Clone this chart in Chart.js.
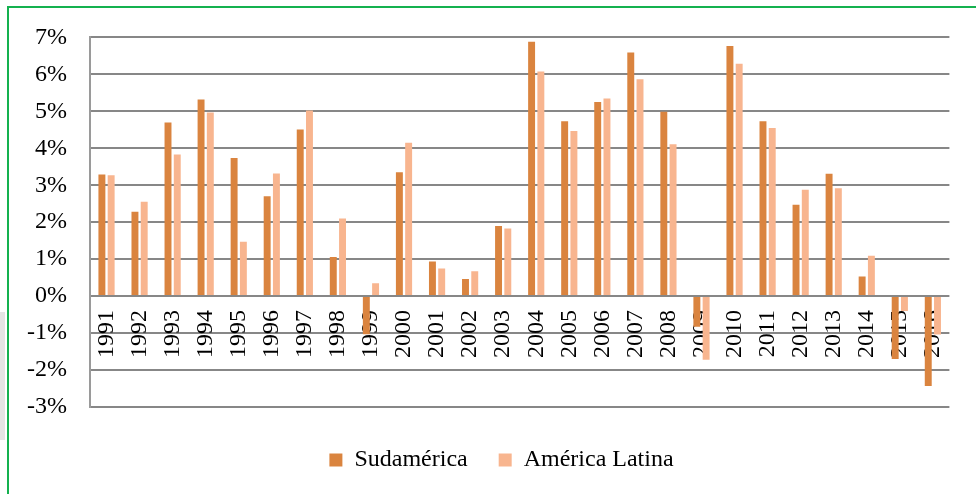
<!DOCTYPE html>
<html>
<head>
<meta charset="utf-8">
<script src="https://cdn.jsdelivr.net/npm/chart.js@4.4.1/dist/chart.umd.min.js"></script>
<style>
    body { margin: 0; background: #fff; }
    #wrap { position: relative; width: 976px; height: 494px; overflow: hidden; }
    #frame { position: absolute; left: 7px; top: 6px; right: -10px; bottom: -10px;
        border-left: 2px solid #14b14f; border-top: 2px solid #14b14f; pointer-events: none; }
    #strip { position: absolute; left: 0; top: 312px; width: 5px; height: 128px; background: #e4e4e4; }
</style>
</head>
<body>
<div id="wrap">
    <canvas id="growthChart" width="976" height="494"></canvas>
    <div id="strip"></div>
    <div id="frame"></div>
</div>
<script>
const years = ['1991', '1992', '1993', '1994', '1995', '1996', '1997', '1998', '1999', '2000',
    '2001', '2002', '2003', '2004', '2005', '2006', '2007', '2008', '2009', '2010',
    '2011', '2012', '2013', '2014', '2015', '2016'];
const sudamerica = [3.29, 2.28, 4.70, 5.32, 3.74, 2.70, 4.51, 1.06, -1.03, 3.35,
    0.94, 0.46, 1.90, 6.88, 4.73, 5.25, 6.59, 4.99, -0.83, 6.77,
    4.73, 2.47, 3.31, 0.53, -1.70, -2.43];
const americaLatina = [3.27, 2.55, 3.83, 4.97, 1.47, 3.32, 5.02, 2.10, 0.35, 4.15,
    0.75, 0.67, 1.83, 6.08, 4.47, 5.35, 5.87, 4.11, -1.72, 6.29,
    4.55, 2.88, 2.92, 1.09, -0.40, -1.04];
const yTicks = [-3, -2, -1, 0, 1, 2, 3, 4, 5, 6, 7];

document.addEventListener('DOMContentLoaded', function() {
    const ctx = document.getElementById('growthChart').getContext('2d');
    const serif = "'Liberation Serif', 'DejaVu Serif', serif";
    Chart.defaults.font.family = serif;
    Chart.defaults.font.size = 24;
    Chart.defaults.color = '#000';

    // nudge the legend a bit right and down, like the original
    const legendShift = {
        id: 'legendShift',
        afterLayout(chart) {
            const lg = chart.legend;
            lg.left += 22; lg.right += 22;
            lg.top += 10; lg.bottom += 10;
        }
    };

    new Chart(ctx, {
        type: 'bar',
        data: {
            labels: years,
            datasets: [{
                label: 'Sudamérica',
                data: sudamerica,
                backgroundColor: '#da843f',
                borderWidth: 0,
                categoryPercentage: 0.56,
                barPercentage: 0.75
            }, {
                label: 'América Latina',
                data: americaLatina,
                backgroundColor: '#f8b58f',
                borderWidth: 0,
                categoryPercentage: 0.56,
                barPercentage: 0.75
            }]
        },
        options: {
            responsive: false,
            animation: false,
            layout: { padding: { top: 35, right: 17, bottom: 22, left: 0 } },
            plugins: {
                tooltip: { enabled: false },
                legend: {
                    position: 'bottom',
                    labels: {
                        boxWidth: 13,
                        boxHeight: 13,
                        padding: 31,
                        color: '#000',
                        font: { family: serif, size: 24 }
                    }
                }
            },
            scales: {
                x: {
                    position: { y: 0 },
                    z: 1,
                    grid: { display: false, drawTicks: false },
                    border: { display: false },
                    ticks: {
                        autoSkip: false,
                        minRotation: 90,
                        maxRotation: 90,
                        padding: 14,
                        color: '#000',
                        font: { family: serif, size: 24 }
                    }
                },
                y: {
                    min: -3,
                    max: 7,
                    afterFit: function(scale) { scale.width = 90; },
                    afterBuildTicks: function(scale) {
                        scale.ticks = yTicks.map(v => ({ value: v }));
                    },
                    grid: { color: '#878787', lineWidth: 2, drawTicks: false },
                    border: { display: true, color: '#9a9a9a', width: 2 },
                    ticks: {
                        padding: 23,
                        color: '#000',
                        font: { family: serif, size: 24 },
                        callback: v => v + '%'
                    }
                }
            }
        },
        plugins: [legendShift]
    });
});
</script>
</body>
</html>
